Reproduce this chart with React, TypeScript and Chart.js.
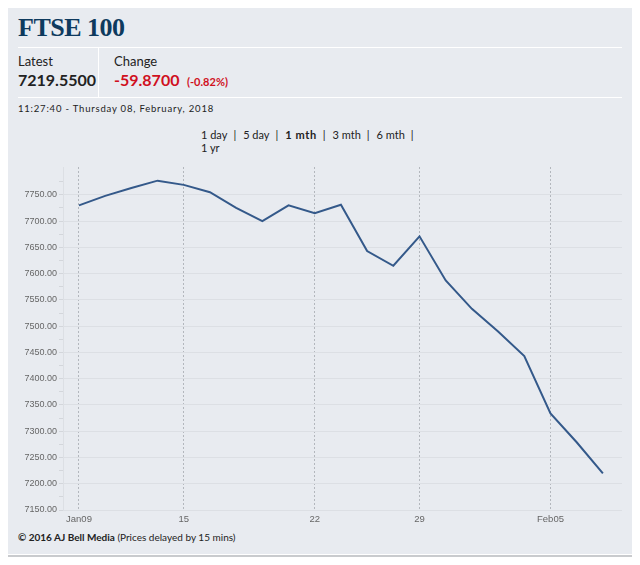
import React, { useEffect, useRef } from "react";
import { Chart, registerables } from "chart.js";

Chart.register(...registerables);

// ---- data ----
const dates: string[] = [
  "Jan09", "Jan10", "Jan11", "Jan12", "Jan15", "Jan16", "Jan17", "Jan18", "Jan19",
  "Jan22", "Jan23", "Jan24", "Jan25", "Jan29", "Jan30", "Jan31", "Feb01", "Feb02",
  "Feb05", "Feb07", "Feb08",
];
const prices: number[] = [
  7730, 7748, 7763, 7777, 7769, 7755, 7725, 7700, 7730,
  7715, 7731, 7643, 7615, 7671, 7587, 7533, 7490, 7443,
  7334, 7279, 7219.55,
];
const xTickDates: string[] = ["Jan09", "Jan15", "Jan22", "Jan29", "Feb05"];
const xTickLabels: string[] = ["Jan09", "15", "22", "29", "Feb05"];
const yMin = 7150;
const yMax = 7803;
const yTickTop = 7775;
const yStep = 25;
const yLabelStep = 50;

const title = "FTSE 100";
const latest = "7219.5500";
const change = "-59.8700";
const changePct = "(-0.82%)";
const timestamp = "11:27:40 - Thursday 08, February, 2018";
const periods: string[] = ["1 day", "5 day", "1 mth", "3 mth", "6 mth", "1 yr"];
const activePeriod = "1 mth";

const CARD_BG = "#e8ebf0";
const LINE_COLOR = "#34598a";
const sans = "Lato, 'Open Sans', sans-serif";

export default function App() {
  const canvasRef = useRef<HTMLCanvasElement | null>(null);

  useEffect(() => {
    if (!canvasRef.current) return;
    const tickIdx = xTickDates.map((d) => dates.indexOf(d));
    const chart = new Chart(canvasRef.current, {
      type: "line",
      data: {
        datasets: [
          {
            label: "FTSE 100",
            data: prices.map((v, i) => ({ x: i, y: v })),
            borderColor: LINE_COLOR,
            borderWidth: 2,
            pointRadius: 0,
            tension: 0,
            fill: false,
          },
        ],
      },
      options: {
        animation: false,
        responsive: false,
        maintainAspectRatio: false,
        layout: { padding: { left: 0, right: 10, top: 7, bottom: 0 } },
        plugins: { legend: { display: false }, tooltip: { enabled: false } },
        scales: {
          x: {
            type: "linear",
            min: -0.61,
            max: 20.73,
            afterBuildTicks: (scale: any) => {
              scale.ticks = tickIdx.map((v) => ({ value: v }));
            },
            afterFit: (scale: any) => {
              scale.height = 20;
              scale.paddingLeft = 0;
              scale.paddingRight = 0;
            },
            ticks: {
              autoSkip: false,
              maxRotation: 0,
              padding: 4,
              color: "#666",
              font: { family: "'Liberation Sans', Arial, sans-serif", size: 9.5 },
              callback: (v: any) => {
                const k = tickIdx.indexOf(Number(v));
                return k >= 0 ? xTickLabels[k] : "";
              },
            },
            grid: {
              color: "#b3b7bd",
              lineWidth: 1,
              drawTicks: false,
            },
            border: { display: false, dash: [2, 2] },
          },
          y: {
            type: "linear",
            min: yMin,
            max: yMax,
            afterBuildTicks: (scale: any) => {
              const t: any[] = [];
              for (let v = yMin; v <= yTickTop; v += yStep) t.push({ value: v });
              scale.ticks = t;
            },
            afterFit: (scale: any) => {
              scale.width = 55;
              scale.paddingTop = 0;
              scale.paddingBottom = 0;
            },
            ticks: {
              autoSkip: false,
              padding: 2,
              color: "#666",
              font: { family: "'Liberation Sans', Arial, sans-serif", size: 9 },
              callback: (v: any) => (Number(v) % yLabelStep === 0 ? Number(v).toFixed(2) : ""),
            },
            grid: {
              color: (ctx: any) =>
                ctx.tick && ctx.tick.value % yLabelStep === 0 ? "#dcdfe4" : "rgba(0,0,0,0)",
              tickColor: "#d3d6db",
              tickLength: 4,
              lineWidth: 1,
            },
            border: { display: true, color: "#dcdfe4" },
          },
        },
      },
    });
    return () => chart.destroy();
  }, []);

  const abs = (s: React.CSSProperties): React.CSSProperties => ({
    position: "absolute",
    margin: 0,
    whiteSpace: "nowrap",
    ...s,
  });

  const sep = <span style={{ margin: "0 7px 0 6px" }}>|</span>;

  return (
    <div>
      <div
        style={{
          position: "relative",
          width: 624,
          height: 546,
          background: CARD_BG,
          fontFamily: sans,
        }}
      >
        <div
          style={abs({
            left: 10,
            top: 7,
            fontFamily: "'Liberation Serif', 'Times New Roman', serif",
            fontWeight: 700,
            fontSize: 26,
            lineHeight: "26px",
            letterSpacing: "-0.5px",
            color: "#0e3a5e",
          })}
        >
          {title}
        </div>
        <div style={abs({ left: 10, top: 39, width: 604, height: 1, background: "#ffffff" })} />
        <div style={abs({ left: 90, top: 39, width: 1, height: 50, background: "#ffffff" })} />
        <div style={abs({ left: 10, top: 89, width: 604, height: 1, background: "#ffffff" })} />

        <div style={abs({ left: 10, top: 46.5, fontSize: 13, lineHeight: "13px", color: "#222" })}>Latest</div>
        <div
          style={abs({ left: 10, top: 64, fontSize: 16, lineHeight: "16px", fontWeight: 700, color: "#222" })}
        >
          {latest}
        </div>
        <div style={abs({ left: 106, top: 46.5, fontSize: 13, lineHeight: "13px", color: "#222" })}>Change</div>
        <div
          style={abs({ left: 106, top: 64, fontSize: 16, lineHeight: "16px", fontWeight: 700, color: "#d0101e" })}
        >
          {change}
        </div>
        <div
          style={abs({ left: 179, top: 68.2, fontSize: 11, lineHeight: "11px", fontWeight: 700, color: "#d0101e" })}
        >
          {changePct}
        </div>
        <div
          style={abs({
            left: 10,
            top: 96.3,
            fontSize: 9.5,
            lineHeight: "9.5px",
            letterSpacing: "0.8px",
            color: "#222",
          })}
        >
          {timestamp}
        </div>

        <div style={abs({ left: 193, top: 120.2, fontSize: 11, lineHeight: "13px", color: "#222" })}>
          {periods.slice(0, 5).map((p) => (
            <span key={p}>
              <span
                style={{
                  fontWeight: p === activePeriod ? 700 : 400,
                  letterSpacing: p === activePeriod ? "0.6px" : 0,
                }}
              >
                {p}
              </span>
              {sep}
            </span>
          ))}
          <br />
          <span style={{ fontWeight: periods[5] === activePeriod ? 700 : 400 }}>{periods[5]}</span>
        </div>

        <canvas
          ref={canvasRef}
          width={624}
          height={370}
          style={{ position: "absolute", left: 0, top: 152, width: 624, height: 370 }}
        />

        <div style={abs({ left: 10, top: 524, fontSize: 10, lineHeight: "10px", color: "#222" })}>
          <span style={{ fontWeight: 700 }}>© 2016 AJ Bell Media</span> (Prices delayed by 15 mins)
        </div>
      </div>
      <div style={{ width: 624, height: 1, background: "#ffffff" }} />
      <div style={{ width: 624, height: 2, background: "#c9cbce" }} />
    </div>
  );
}
